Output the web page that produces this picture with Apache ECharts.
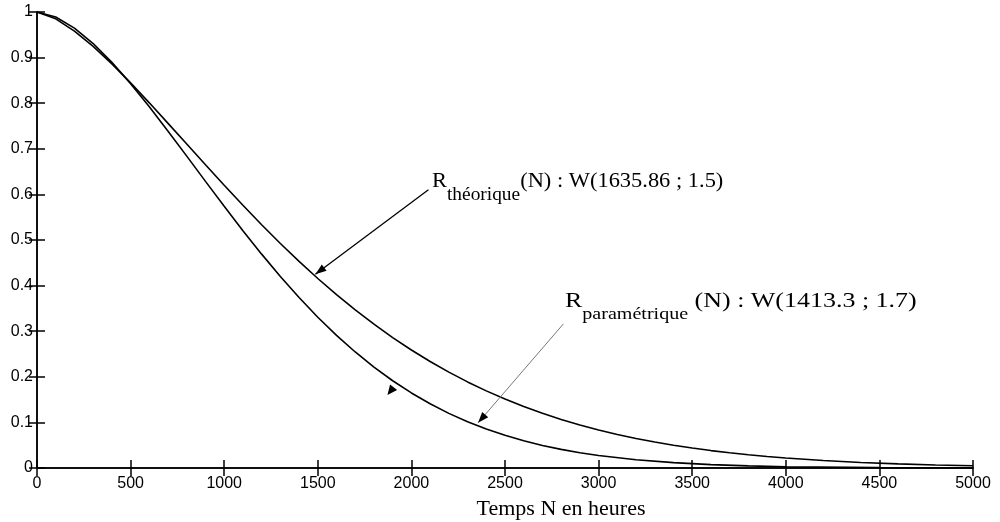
<!DOCTYPE html>
<html>
<head>
<meta charset="utf-8">
<script src="https://cdn.jsdelivr.net/npm/echarts@6/dist/echarts.min.js"></script>
<style>
html,body{margin:0;padding:0;background:#fff;}
#chart{width:1000px;height:522px;}
</style>
</head>
<body>
<div id="chart"></div>
<script>
// Time (hours) sample points and reliability values
const hoursTheo = [0,100,200,300,400,500,600,700,800,900,1000,1100,1200,1300,1400,1500,1600,1700,1800,1900,2000,2100,2200,2300,2400,2500,2600,2700,2800,2900,3000,3100,3200,3300,3400,3500,3600,3700,3800,3900,4000,4200,4400,4600,4800,5000];
const relTheo = [1,0.985,0.9582,0.9245,0.8861,0.8445,0.8008,0.7558,0.7104,0.6649,0.6201,0.5761,0.5335,0.4924,0.4531,0.4156,0.3801,0.3467,0.3153,0.2860,0.2588,0.2335,0.2102,0.1888,0.1691,0.1512,0.1348,0.1200,0.1065,0.0944,0.0834,0.0736,0.0648,0.0570,0.0500,0.0438,0.0382,0.0333,0.0290,0.0252,0.0219,0.0164,0.0121,0.0090,0.0066,0.0048];

const hoursPara = [0,100,200,300,400,500,600,700,800,900,1000,1100,1200,1300,1400,1500,1600,1700,1800,1900,2000,2100,2200,2300,2400,2500,2600,2700,2800,2900,3000,3200,3400,3600,3800,4000,4500,5000];
const relPara = [1,0.989,0.9646,0.9308,0.8896,0.8429,0.7921,0.7387,0.6839,0.6286,0.5739,0.5204,0.4690,0.4200,0.3738,0.3307,0.2909,0.2544,0.2212,0.1913,0.1646,0.1408,0.1198,0.1014,0.0854,0.0716,0.0597,0.0495,0.0409,0.0336,0.0275,0.0181,0.0117,0.0074,0.0046,0.0028,0.0008,0.0002];

const xTitle = 'Temps N en heures';
const label1 = [['R', 22, 0], ['théorique', 19, 12], ['(N) : W(1635.86 ; 1.5)', 22, 0]];
const label2 = [['R', 22, 0], ['paramétrique', 17, 11], [' (N) : W(1413.3 ; 1.7)', 22, 0]];

const toPairs = (xs, ys) => xs.map((x, i) => [x, ys[i]]);

const chart = echarts.init(document.getElementById('chart'), null, {renderer: 'canvas'});
const tickLabel = {color: '#000', fontFamily: 'Liberation Sans', fontSize: 16, formatter: v => String(v)};
const axisLine = {show: true, lineStyle: {color: '#000', width: 1.5}};
const axisTick = {show: true, inside: true, length: 8, lineStyle: {color: '#000', width: 1.5}};

chart.setOption({
  animation: false,
  backgroundColor: '#fff',
  grid: {left: 37, right: 27, top: 12, bottom: 54, containLabel: false, outerBoundsMode: 'none'},
  xAxis: [
    {type: 'value', min: 0, max: 5000, interval: 500, position: 'bottom',
     axisLine: axisLine, axisTick: axisTick, splitLine: {show: false},
     axisLabel: Object.assign({margin: 8}, tickLabel),
     name: xTitle, nameLocation: 'middle', nameGap: 30,
     nameTextStyle: {color: '#000', fontFamily: 'Liberation Serif', fontSize: 22, padding: [0, 0, 0, 112]}},
    {type: 'value', min: 0, max: 5000, interval: 500, position: 'top',
     axisLine: axisLine, axisTick: axisTick, splitLine: {show: false}, axisLabel: {show: false}}
  ],
  yAxis: [
    {type: 'value', min: 0, max: 1, interval: 0.1, position: 'left',
     axisLine: axisLine, axisTick: axisTick, splitLine: {show: false},
     axisLabel: Object.assign({margin: 4}, tickLabel)},
    {type: 'value', min: 0, max: 1, interval: 0.1, position: 'right',
     axisLine: axisLine, axisTick: axisTick, splitLine: {show: false}, axisLabel: {show: false}}
  ],
  series: [
    {name: 'théorique', type: 'line', data: toPairs(hoursTheo, relTheo), showSymbol: false,
     lineStyle: {color: '#000', width: 1.6}, z: 3},
    {name: 'paramétrique', type: 'line', data: toPairs(hoursPara, relPara), showSymbol: false,
     lineStyle: {color: '#000', width: 1.6}, z: 3}
  ]
});

// annotations (positions in data space)
const arrows = [
  {from: [2091, 0.610], to: [1487, 0.425], color: '#000', width: 1.3},
  {from: [2812, 0.316], to: [2356, 0.099], color: '#777', width: 1}
];
const looseHead = {tip: [1872, 0.160], dir: [-5.5, 7]};

const px = p => chart.convertToPixel({gridIndex: 0}, p);
const ctx = document.createElement('canvas').getContext('2d');
function measure(t, size) { ctx.font = size + "px 'Liberation Serif'"; return ctx.measureText(t).width; }

function head(tip, dx, dy, len, half) {
  const l = Math.hypot(dx, dy), ux = dx / l, uy = dy / l;
  const bx = tip[0] - ux * len, by = tip[1] - uy * len;
  return {type: 'polygon', shape: {points: [tip, [bx - uy * half, by + ux * half], [bx + uy * half, by - ux * half]]},
          style: {fill: '#000'}, z: 10};
}

function richLabel(parts, x, baseline, sx) {
  let cx = 0; const children = [];
  parts.forEach(([t, size, dy]) => {
    children.push({type: 'text', x: cx, y: baseline + dy - 0.34 * size,
      style: {text: t, font: size + "px 'Liberation Serif'", fill: '#000', verticalAlign: 'middle', align: 'left'}});
    cx += measure(t, size);
  });
  return {type: 'group', x: x, y: 0, scaleX: sx, children: children, z: 10};
}

const g = [];
arrows.forEach(a => {
  const f = px(a.from), t = px(a.to);
  g.push({type: 'line', shape: {x1: f[0], y1: f[1], x2: t[0], y2: t[1]}, style: {stroke: a.color, lineWidth: a.width}, z: 9});
  g.push(head(t, t[0] - f[0], t[1] - f[1], 11, 4));
});
g.push(head(px(looseHead.tip), looseHead.dir[0], looseHead.dir[1], 10, 4.5));
g.push(richLabel(label1, 432, 189, 1.02));
g.push(richLabel(label2, 565, 309, 1.18));
chart.setOption({graphic: g});
</script>
</body>
</html>
